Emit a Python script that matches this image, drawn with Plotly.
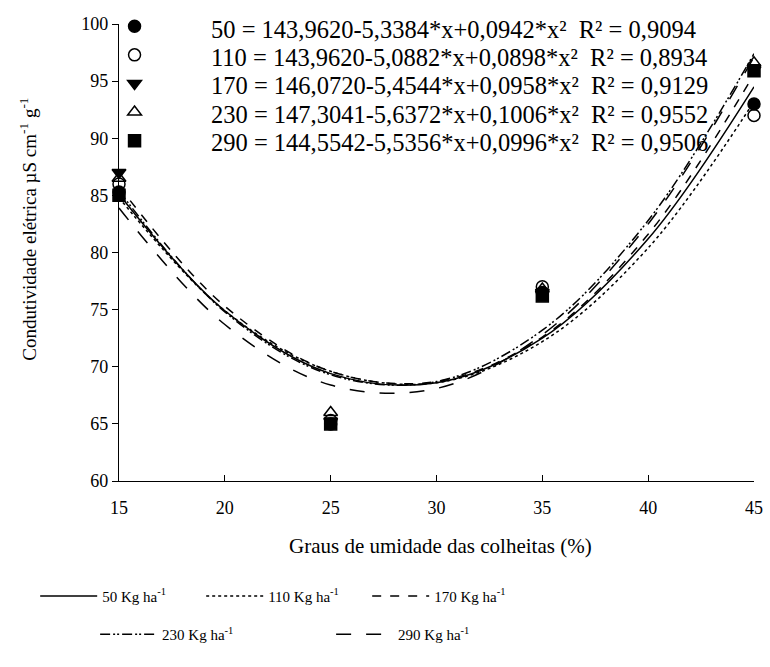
import plotly.graph_objects as go

# ---- data ----
doses = ["50", "110", "170", "230", "290"]
equations = [
    "50 = 143,9620-5,3384*x+0,0942*x²  R² = 0,9094",
    "110 = 143,9620-5,0882*x+0,0898*x²  R² = 0,8934",
    "170 = 146,0720-5,4544*x+0,0958*x²  R² = 0,9129",
    "230 = 147,3041-5,6372*x+0,1006*x²  R² = 0,9552",
    "290 = 144,5542-5,5356*x+0,0996*x²  R² = 0,9506",
]
obs_x = [15, 25, 35, 45]
obs_50 = [85.3, 65.0, 76.5, 93.0]
obs_110 = [86.0, 65.3, 77.0, 92.0]
obs_170 = [87.0, 65.2, 76.5, 96.0]
obs_230 = [86.5, 66.0, 76.8, 96.6]
obs_290 = [85.0, 65.0, 76.2, 95.9]

fit_x = [15, 20, 25, 30, 35, 40, 45]
fit_50 = [85.1, 74.9, 69.4, 68.6, 72.5, 81.2, 94.5]
fit_110 = [84.8, 74.9, 69.6, 68.6, 72.2, 80.4, 93.2]
fit_170 = [85.8, 75.3, 69.6, 68.7, 72.6, 81.6, 95.6]
fit_230 = [85.4, 74.8, 69.3, 68.7, 73.2, 82.8, 97.4]
fit_290 = [83.9, 73.7, 68.4, 68.1, 72.8, 82.5, 97.1]

x_ticks = [15, 20, 25, 30, 35, 40, 45]
y_ticks = [60, 65, 70, 75, 80, 85, 90, 95, 100]

x_title = "Graus de umidade das colheitas (%)"
y_title = "Condutividade elétrica µS cm<sup>-1</sup> g<sup>-1</sup>"

obs_all = [obs_50, obs_110, obs_170, obs_230, obs_290]
fit_all = [fit_50, fit_110, fit_170, fit_230, fit_290]

symbols = ["circle", "circle-open", "triangle-down", "triangle-up-open", "square"]
dashes = ["solid", "dot", "dash", "10px,3px,2px,2px,2px,3px", "longdash"]
line_legend = ["legend", "legend", "legend", "legend2", "legend2"]

FONT = "Liberation Serif"

fig = go.Figure()

for i in range(5):
    fig.add_trace(go.Scatter(
        x=fit_x, y=fit_all[i], mode="lines", line_shape="spline",
        line=dict(color="black", width=1.5, dash=dashes[i]),
        name=doses[i] + " Kg ha<sup>-1</sup>",
        legend=line_legend[i], showlegend=True, hoverinfo="skip",
    ))

for i in range(5):
    fig.add_trace(go.Scatter(
        x=obs_x, y=obs_all[i], mode="markers",
        marker=dict(symbol=symbols[i], size=12, color="black",
                    line=dict(color="black", width=1.5)),
        name=" ", legend="legend3", cliponaxis=False,
        hovertext=equations[i],
    ))

# equation labels next to the marker legend
eq_y = [0.9871, 0.9269, 0.8645, 0.8022, 0.7398]
for i in range(5):
    fig.add_annotation(
        text=equations[i], xref="paper", yref="paper",
        x=0.1413, y=eq_y[i], xanchor="left", yanchor="middle",
        showarrow=False, font=dict(size=24.5, family=FONT, color="black"),
    )

fig.add_annotation(
    text=x_title, xref="paper", yref="paper", x=0.506, y=-0.142,
    xanchor="center", yanchor="middle", showarrow=False,
    font=dict(size=21, family=FONT, color="black"),
)
fig.add_annotation(
    text=y_title, xref="paper", yref="paper", x=-0.1429, y=0.5505,
    xanchor="center", yanchor="middle", showarrow=False, textangle=-90,
    font=dict(size=19, family=FONT, color="black"),
)

fig.update_layout(
    width=770, height=667,
    margin=dict(l=119, r=7, t=16, b=186),
    paper_bgcolor="white", plot_bgcolor="white",
    font=dict(family=FONT, color="black", size=17),
    xaxis=dict(
        range=[15, 45], tickvals=x_ticks, showgrid=False, zeroline=False,
        showline=True, linecolor="black", linewidth=1.2,
        ticks="inside", ticklen=6, tickcolor="black",
        ticklabeloverflow="allow", ticklabelstandoff=10,
        tickfont=dict(size=18, family=FONT),
    ),
    yaxis=dict(
        range=[60, 100], tickvals=y_ticks, showgrid=False, zeroline=False,
        showline=True, linecolor="black", linewidth=1.2,
        ticks="outside", ticklen=6, tickcolor="black",
        tickfont=dict(size=18, family=FONT),
    ),
    legend=dict(
        orientation="h", x=-0.132, xanchor="left", y=-0.252, yanchor="middle",
        entrywidth=94, entrywidthmode="pixels", itemwidth=57,
        font=dict(size=15, family=FONT), bgcolor="rgba(0,0,0,0)",
    ),
    legend2=dict(
        orientation="h", x=-0.0376, xanchor="left", y=-0.336, yanchor="middle",
        entrywidth=164, entrywidthmode="pixels", itemwidth=57,
        font=dict(size=15, family=FONT), bgcolor="rgba(0,0,0,0)",
    ),
    legend3=dict(
        orientation="v", x=-0.07, xanchor="left", y=1.0373, yanchor="top",
        font=dict(size=19.7, family=FONT), bgcolor="rgba(0,0,0,0)",
        itemwidth=110, tracegroupgap=0,
    ),
)

fig.write_html("out.html")
